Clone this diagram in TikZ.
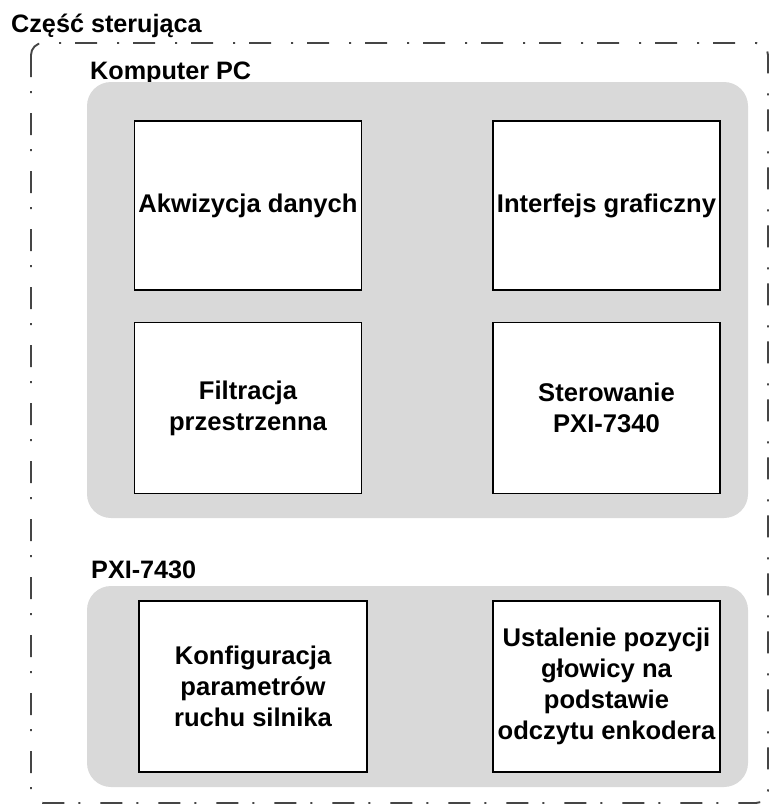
\documentclass[tikz,border=0pt]{standalone}
\usepackage{fontspec}
\setmainfont{Liberation Sans}
\begin{document}
\begin{tikzpicture}[x=1pt,y=-1pt,
  panel/.style={fill=panelgray, draw=none, rounded corners=24pt},
  blk/.style={draw=black, line width=1.6pt, fill=white, align=center, inner sep=0pt,
     font=\fontsize{25.6}{31}\selectfont\bfseries},
  lbl/.style={anchor=base west, inner sep=0pt, font=\fontsize{25.2}{29}\selectfont\bfseries},
  outer/.style={draw=outergray, line width=1.9pt, rounded corners=12pt,
     dash pattern=on 22pt off 14pt on 2pt off 20pt}]
\definecolor{panelgray}{HTML}{D9D9D9}
\definecolor{outergray}{HTML}{454545}
\useasboundingbox (0,0) rectangle (776,807);
% outer frame
\draw[outer] (31,43) rectangle (768,803);
\node[lbl] (title) at (11,32) {Część sterująca};
% panel 1
\node[lbl] (pc) at (90,79) {Komputer PC};
\fill[panel] (87,82) rectangle (748,518);
\node[blk, minimum width=227pt, minimum height=169pt] (a) at (248,205.5) {Akwizycja danych};
\node[blk, minimum width=227pt, minimum height=169pt] (b) at (606.5,205.5) {Interfejs graficzny};
\node[blk, minimum width=227pt, minimum height=171pt] (c) at (248,408) {Filtracja\\przestrzenna};
\node[blk, minimum width=227pt, minimum height=171pt] (d) at (606.5,408) {Sterowanie\\PXI-7340};
% panel 2
\node[lbl] (pxi) at (91,578) {PXI-7430};
\fill[panel] (87,586) rectangle (748,787);
\node[blk, minimum width=228pt, minimum height=171pt] (e) at (253,686.5) {Konfiguracja\\parametrów\\ruchu silnika};
\node[blk, minimum width=227pt, minimum height=171pt] (f) at (606.5,686.5) {Ustalenie pozycji\\głowicy na\\podstawie\\odczytu enkodera};
\end{tikzpicture}
\end{document}
